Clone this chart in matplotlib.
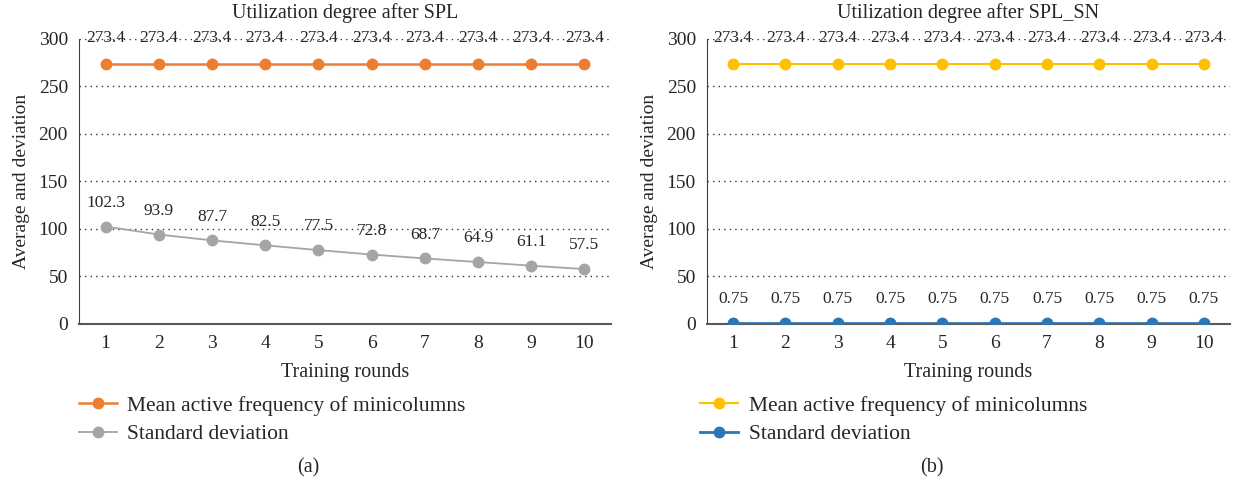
import matplotlib.pyplot as plt
from matplotlib.ticker import MultipleLocator

plt.rcParams['font.family'] = ['Liberation Serif', 'DejaVu Serif']

rounds = [1, 2, 3, 4, 5, 6, 7, 8, 9, 10]
mean_spl = [273.4] * 10
std_spl = [102.3, 93.9, 87.7, 82.5, 77.5, 72.8, 68.7, 64.9, 61.1, 57.5]
mean_sn = [273.4] * 10
std_sn = [0.75] * 10
std_sn_labels = ['0.75'] * 10

titles = ['Utilization degree after SPL', 'Utilization degree after SPL_SN']
panels = ['(a)', '(b)']
mean_label = 'Mean active frequency of minicolumns'
std_label = 'Standard deviation'

fig = plt.figure(figsize=(12.33, 4.83), dpi=100)
ax1 = fig.add_axes([0.0641, 0.3298, 0.4315, 0.590])
ax2 = fig.add_axes([0.5734, 0.3298, 0.4242, 0.590])

def draw(ax, mean, std, mcol, scol, slabels, title, panel, mlw, slw, legx):
    ax.plot(rounds, mean, '-o', color=mcol, lw=mlw, ms=7.5, label=mean_label, zorder=3)
    ax.plot(rounds, std, '-o', color=scol, lw=slw, ms=7.5, label=std_label, zorder=3)
    for x, y in zip(rounds, mean):
        ax.annotate('%.1f' % y, (x, y), xytext=(0, 19), textcoords='offset points',
                    ha='center', va='center', fontsize=12.5, color='#262626', zorder=4)
    for x, y, s in zip(rounds, std, slabels):
        ax.annotate(s, (x, y), xytext=(0, 17), textcoords='offset points',
                    ha='center', va='center', fontsize=12.5, color='#262626', zorder=4)
    ax.set_xlim(0.5, 10.5)
    ax.set_ylim(0, 300)
    ax.yaxis.set_major_locator(MultipleLocator(50))
    ax.set_xticks(rounds)
    ax.grid(axis='y', linestyle=(0, (1, 3)), color='#333333', lw=1)
    ax.set_axisbelow(True)
    for s in ['top', 'right']:
        ax.spines[s].set_visible(False)
    ax.spines['left'].set_color('#404040')
    ax.spines['bottom'].set_color('#595959')
    ax.spines['bottom'].set_linewidth(1.5)
    ax.tick_params(length=0, labelsize=14, colors='#262626', pad=8)
    ax.set_title(title, fontsize=14.5, color='#262626', pad=15)
    ax.set_xlabel('Training rounds', fontsize=14.5, color='#262626', labelpad=8)
    ax.set_ylabel('Average and deviation', fontsize=14, color='#262626', labelpad=6)
    ax.legend(loc='upper left', bbox_to_anchor=(legx, -0.253), frameon=False,
              fontsize=15.5, handlelength=1.75, labelspacing=0.38, handletextpad=0.5,
              borderaxespad=0, borderpad=0, labelcolor='#262626')
    ax.text(0.43, -0.505, panel, transform=ax.transAxes, ha='center', va='center',
            fontsize=14.5, color='#262626')

draw(ax1, mean_spl, std_spl, '#ED7D31', '#A5A5A5', ['%.1f' % v for v in std_spl],
     titles[0], panels[0], 1.8, 1.3, 0.0)
draw(ax2, mean_sn, std_sn, '#FFC000', '#2E75B6', std_sn_labels,
     titles[1], panels[1], 1.5, 2.0, -0.013)

fig.savefig('out.png', dpi=100)
